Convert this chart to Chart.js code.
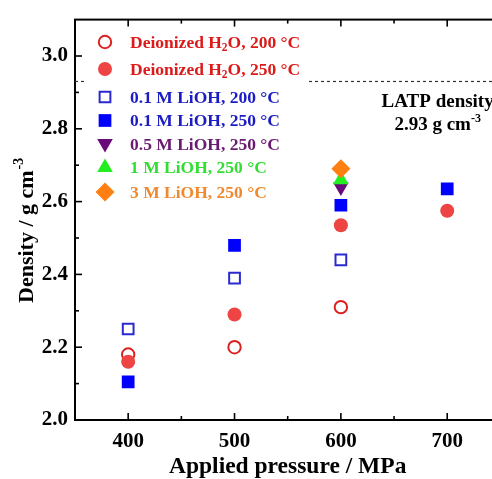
<!DOCTYPE html>
<html><head><meta charset="utf-8">
<script src="https://cdn.jsdelivr.net/npm/chart.js@4.4.1/dist/chart.umd.min.js"></script>
<style>
html,body{margin:0;padding:0;overflow:hidden;background:#fff}
#wrap{width:492px;height:479px;overflow:hidden;position:relative;background:#fff}
canvas{display:block}
</style></head>
<body><div id="wrap"><canvas id="c" width="510" height="479" style="width:510px;height:479px"></canvas></div>
<script>
// ---- data ----
const xTicks = [400, 500, 600, 700];
const xMinor = [450, 550, 650];
const yTicks = [2.0, 2.2, 2.4, 2.6, 2.8, 3.0];
const yMinor = [2.1, 2.3, 2.5, 2.7, 2.9];

const pDI200 = [400, 500, 600];
const dDI200 = [2.18, 2.20, 2.31];
const pDI250 = [400, 500, 600, 700];
const dDI250 = [2.16, 2.29, 2.535, 2.575];
const pL01_200 = [400, 500, 600];
const dL01_200 = [2.25, 2.39, 2.44];
const pL01_250 = [400, 500, 600, 700];
const dL01_250 = [2.105, 2.48, 2.59, 2.635];
const pL05_250 = [600];
const dL05_250 = [2.64];
const pL1_250 = [600];
const dL1_250 = [2.66];
const pL3_250 = [600];
const dL3_250 = [2.69];

const latpDensity = 2.93;
const seriesLabels = [
  'Deionized H₂O, 200 °C',
  'Deionized H₂O, 250 °C',
  '0.1 M LiOH, 200 °C',
  '0.1 M LiOH, 250 °C',
  '0.5 M LiOH, 250 °C',
  '1 M LiOH, 250 °C',
  '3 M LiOH, 250 °C'
];
const xTitle = 'Applied pressure / MPa';
const yTitleMain = 'Density / g cm';
const yTitleSup = '-3';
const latpLine1 = 'LATP density';
const latpLine2 = '2.93 g cm';
const latpSup = '-3';

// ---- build ----
const pts = (xs, ys) => xs.map((x, i) => ({x: x, y: ys[i]}));
const FONT = '"Liberation Serif", "Times New Roman", serif';

const styles = [
  {pointStyle: 'circle', pointRadius: 6.2, borderWidth: 2, borderColor: '#dd2020', backgroundColor: 'rgba(255,255,255,0)', text: '#dd1a1a'},
  {pointStyle: 'circle', pointRadius: 7, borderWidth: 0, borderColor: '#ee4444', backgroundColor: '#ee4444', text: '#dd1a1a'},
  {pointStyle: 'rect', pointRadius: 7.6, borderWidth: 2, borderColor: '#2a2ad0', backgroundColor: 'rgba(255,255,255,0)', text: '#1c1cc4'},
  {pointStyle: 'rect', pointRadius: 9, borderWidth: 0, borderColor: '#0000ff', backgroundColor: '#0000ff', text: '#1c1cc4'},
  {pointStyle: 'triangle', rotation: 180, pointRadius: 9, borderWidth: 0, borderColor: '#6a0a7a', backgroundColor: '#6a0a7a', text: '#6a1a72'},
  {pointStyle: 'triangle', pointRadius: 9, borderWidth: 0, borderColor: '#22ee22', backgroundColor: '#22ee22', text: '#33dd33'},
  {pointStyle: 'rectRot', pointRadius: 9.5, borderWidth: 0, borderColor: '#ff8010', backgroundColor: '#ff8010', text: '#f08a30'}
];
const seriesData = [
  pts(pDI200, dDI200), pts(pDI250, dDI250), pts(pL01_200, dL01_200), pts(pL01_250, dL01_250),
  pts(pL05_250, dL05_250), pts(pL1_250, dL1_250), pts(pL3_250, dL3_250)
];

const datasets = seriesData.map((d, i) => ({
  type: 'scatter',
  label: seriesLabels[i],
  data: d,
  pointStyle: styles[i].pointStyle,
  pointRadius: styles[i].pointRadius,
  pointHoverRadius: styles[i].pointRadius,
  rotation: styles[i].rotation || 0,
  borderWidth: styles[i].borderWidth,
  borderColor: styles[i].borderColor,
  backgroundColor: styles[i].backgroundColor,
  order: 10 - i
}));
datasets.push({
  type: 'line',
  label: 'LATP',
  data: [{x: 350, y: latpDensity}, {x: 750, y: latpDensity}],
  borderColor: '#333',
  borderWidth: 1.2,
  borderDash: [3, 3],
  pointRadius: 0,
  order: 20
});

function marker(ctx, st, x, y) {
  const r = st.pointRadius;
  ctx.beginPath();
  if (st.pointStyle === 'circle') {
    ctx.arc(x, y, r, 0, Math.PI * 2);
  } else if (st.pointStyle === 'rect') {
    const s = r * Math.SQRT1_2;
    ctx.rect(x - s, y - s, 2 * s, 2 * s);
  } else if (st.pointStyle === 'rectRot') {
    ctx.moveTo(x, y - r); ctx.lineTo(x + r, y); ctx.lineTo(x, y + r); ctx.lineTo(x - r, y);
  } else if (st.pointStyle === 'triangle') {
    let rad = (st.rotation || 0) * Math.PI / 180;
    for (let k = 0; k < 3; k++) {
      const px = x + Math.sin(rad) * r, py = y - Math.cos(rad) * r;
      if (k === 0) ctx.moveTo(px, py); else ctx.lineTo(px, py);
      rad += 2 * Math.PI / 3;
    }
  }
  ctx.closePath();
  ctx.fillStyle = st.backgroundColor;
  ctx.fill();
  if (st.borderWidth > 0) { ctx.lineWidth = st.borderWidth; ctx.strokeStyle = st.borderColor; ctx.stroke(); }
}

const framePlugin = {
  id: 'frame',
  beforeDatasetsDraw(chart) {
    const {ctx, chartArea: a, scales: {x, y}} = chart;
    ctx.save();
    ctx.strokeStyle = '#000';
    ctx.lineWidth = 1.6;
    const tick = (x1, y1, x2, y2) => { ctx.beginPath(); ctx.moveTo(x1, y1); ctx.lineTo(x2, y2); ctx.stroke(); };
    xTicks.forEach(v => { const px = x.getPixelForValue(v); tick(px, a.bottom, px, a.bottom - 7); tick(px, a.top, px, a.top + 7); });
    xMinor.forEach(v => { const px = x.getPixelForValue(v); tick(px, a.bottom, px, a.bottom - 4); tick(px, a.top, px, a.top + 4); });
    yTicks.forEach(v => { const py = y.getPixelForValue(v); tick(a.left, py, a.left + 7, py); tick(a.right, py, a.right - 7, py); });
    yMinor.forEach(v => { const py = y.getPixelForValue(v); tick(a.left, py, a.left + 4, py); tick(a.right, py, a.right - 4, py); });
    ctx.lineWidth = 2;
    ctx.strokeRect(a.left, a.top, a.right - a.left, a.bottom - a.top);
    ctx.restore();
  },
  afterDatasetsDraw(chart) {
    const {ctx, scales: {x, y}} = chart;
    ctx.save();
    // legend background
    ctx.fillStyle = '#fff';
    ctx.fillRect(86, 27, 220, 180);
    const rowsY = [42, 69, 97, 120.5, 144.5, 167.5, 192];
    const mx = 105, tx = 130;
    seriesLabels.forEach((lab, i) => {
      const st = styles[i];
      const yy = rowsY[i];
      marker(ctx, st, mx, st.rotation ? yy - 1 : yy);
      ctx.fillStyle = st.text;
      ctx.textBaseline = 'middle';
      ctx.textAlign = 'left';
      const parts = lab.split('₂');
      let cx = tx;
      ctx.font = 'bold 17.5px ' + FONT;
      ctx.fillText(parts[0], cx, yy + 1);
      cx += ctx.measureText(parts[0]).width;
      if (parts.length > 1) {
        ctx.font = 'bold 11.5px ' + FONT;
        ctx.fillText('2', cx, yy + 6);
        cx += ctx.measureText('2').width;
        ctx.font = 'bold 17.5px ' + FONT;
        ctx.fillText(parts[1], cx, yy + 1);
      }
    });
    // LATP annotation
    ctx.fillStyle = '#000';
    ctx.textBaseline = 'alphabetic';
    ctx.textAlign = 'center';
    ctx.font = 'bold 19px ' + FONT;
    const ax = x.getPixelForValue(691);
    const ay = y.getPixelForValue(latpDensity);
    ctx.fillText(latpLine1, ax, ay + 26);
    const w2 = ctx.measureText(latpLine2).width;
    ctx.font = 'bold 12px ' + FONT;
    const ws = ctx.measureText(latpSup).width;
    const start = ax - (w2 + ws) / 2;
    ctx.textAlign = 'left';
    ctx.font = 'bold 19px ' + FONT;
    ctx.fillText(latpLine2, start, ay + 49);
    ctx.font = 'bold 12px ' + FONT;
    ctx.fillText(latpSup, start + w2, ay + 41);
    // y axis title
    ctx.save();
    ctx.translate(33, 303);
    ctx.rotate(-Math.PI / 2);
    ctx.textAlign = 'left';
    ctx.textBaseline = 'alphabetic';
    ctx.font = 'bold 22px ' + FONT;
    ctx.fillText(yTitleMain, 0, 0);
    const wm = ctx.measureText(yTitleMain).width;
    ctx.font = 'bold 14px ' + FONT;
    ctx.fillText(yTitleSup, wm + 1, -10);
    ctx.restore();
    ctx.restore();
  }
};

new Chart(document.getElementById('c'), {
  data: {datasets: datasets},
  options: {
    responsive: false,
    animation: false,
    events: [],
    layout: {padding: {top: 14.4, right: 9, left: 0, bottom: 0}},
    plugins: {legend: {display: false}, tooltip: {enabled: false}},
    scales: {
      x: {
        type: 'linear', min: 350, max: 750,
        afterBuildTicks: s => { s.ticks = xTicks.map(v => ({value: v})); },
        afterFit: s => { s.height = 59; },
        grid: {display: false, drawTicks: false},
        border: {display: false},
        ticks: {color: '#000', padding: 9, font: {family: FONT, size: 21, weight: 'bold'}, maxRotation: 0},
        title: {display: true, text: xTitle, color: '#000', padding: {top: 0, bottom: 0}, font: {family: FONT, size: 23.5, weight: 'bold', lineHeight: 1}}
      },
      y: {
        type: 'linear', min: 2.0, max: 3.1,
        afterBuildTicks: s => { s.ticks = yTicks.map(v => ({value: v})); },
        afterFit: s => { s.width = 75; },
        grid: {display: false, drawTicks: false},
        border: {display: false},
        ticks: {color: '#000', padding: 7, font: {family: FONT, size: 21, weight: 'bold'}, callback: v => v.toFixed(1)},
        title: {display: false}
      }
    }
  },
  plugins: [framePlugin]
});
</script>
</body></html>
